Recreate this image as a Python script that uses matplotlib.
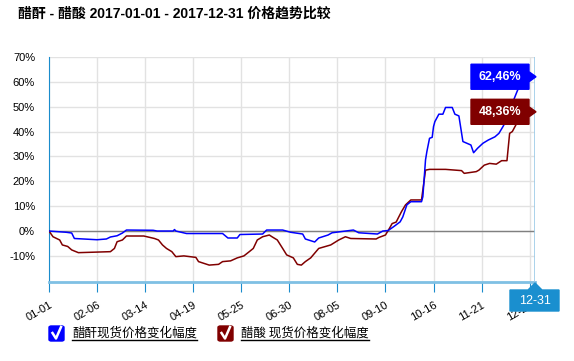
import matplotlib
matplotlib.use("Agg")
import matplotlib.pyplot as plt
import matplotlib.dates as mdates
from matplotlib.patches import Polygon, FancyBboxPatch
from matplotlib.lines import Line2D
import pandas as pd

plt.rcParams['font.family'] = ['Liberation Sans', 'Noto Sans CJK SC', 'DejaVu Sans']

# Data (% change vs 2017-01-01)
anhydride_dates = [
    "01-01", "01-14", "01-18", "01-20", "02-06", "02-13", "02-16", "02-21", "02-25", "02-28",
    "03-20", "03-23", "04-04", "04-05", "04-06", "04-14", "05-11", "05-15", "05-22", "05-24",
    "06-10", "06-13", "06-25", "07-01", "07-10", "07-12", "07-19", "07-22", "07-29", "08-01",
    "08-17", "08-21", "09-04", "09-08", "09-12", "09-16", "09-21", "09-23", "09-26", "09-29",
    "10-07", "10-08", "10-10", "10-11", "10-13", "10-15", "10-16", "10-17", "10-20", "10-23",
    "10-25", "10-30", "11-01", "11-04", "11-07", "11-10", "11-13", "11-15", "11-18", "11-22",
    "11-26", "12-01", "12-04", "12-07", "12-09", "12-13", "12-15", "12-18", "12-20", "12-24",
    "12-31",
]
anhydride_pct = [
    0.0, -0.5, -0.8, -3.0, -3.5, -3.2, -2.4, -1.9, -0.8, 0.4,
    0.3, 0.0, 0.0, 0.6, 0.0, -1.0, -1.0, -2.8, -2.8, -1.4,
    -1.2, 0.4, 0.4, -0.5, -1.2, -3.2, -4.4, -2.8, -1.6, -0.7,
    0.4, -0.7, -1.2, 0.0, 0.2, 1.7, 3.7, 5.7, 10.5, 11.8,
    11.8, 13.8, 28.6, 31.9, 37.3, 37.7, 42.0, 44.0, 47.0, 47.0,
    49.7, 49.7, 47.0, 46.3, 36.0, 35.3, 34.6, 31.5, 33.3, 35.3,
    36.6, 37.9, 39.3, 42.0, 44.0, 48.0, 52.7, 56.7, 58.5, 60.5,
    62.46,
]

acid_dates = [
    "01-01", "01-04", "01-09", "01-11", "01-15", "01-18", "01-23", "02-16", "02-19", "02-21",
    "02-25", "02-28", "03-13", "03-21", "03-24", "03-27", "03-30", "04-03", "04-06", "04-12",
    "04-21", "04-23", "05-01", "05-08", "05-11", "05-17", "05-22", "05-27", "05-31", "06-03",
    "06-06", "06-10", "06-15", "06-17", "06-21", "06-25", "06-28", "07-03", "07-06", "07-09",
    "07-12", "07-16", "07-22", "07-31", "08-06", "08-11", "08-15", "09-03", "09-05", "09-10",
    "09-13", "09-15", "09-18", "09-22", "09-25", "09-29", "10-07", "10-10", "10-13", "10-25",
    "11-06", "11-08", "11-17", "11-19", "11-23", "11-27", "12-02", "12-06", "12-10", "12-12",
    "12-14", "12-18", "12-23", "12-31",
]
acid_pct = [
    0.0, -2.3, -3.6, -5.6, -6.2, -7.6, -8.7, -8.3, -7.0, -4.3,
    -3.6, -2.0, -2.0, -3.0, -3.6, -5.6, -7.0, -8.3, -10.3, -10.0,
    -10.6, -12.3, -13.7, -13.4, -12.3, -12.0, -10.8, -10.0, -8.3, -7.0,
    -3.6, -2.3, -1.6, -2.3, -3.6, -7.0, -9.6, -10.8, -13.4, -13.7,
    -12.3, -10.8, -7.0, -5.6, -3.6, -2.3, -3.0, -3.2, -2.6, -1.6,
    1.1, 3.0, 3.6, 7.8, 10.5, 12.5, 12.5, 24.5, 24.8, 24.8,
    24.3, 23.2, 23.9, 24.5, 26.5, 27.2, 26.9, 28.3, 28.3, 39.3,
    40.0, 44.0, 46.0, 48.36,
]

tick_labels = ["01-01", "02-06", "03-14", "04-19", "05-25", "06-30",
               "08-05", "09-10", "10-16", "11-21", "12-27"]
y_ticks = [-10, 0, 10, 20, 30, 40, 50, 60, 70]

series_names = ["醋酐现货价格变化幅度", "醋酸 现货价格变化幅度"]
series_colors = ["#0000ff", "#800000"]
title = "醋酐 - 醋酸 2017-01-01 - 2017-12-31 价格趋势比较"


def to_dates(mmdd):
    return pd.to_datetime(["2017-" + d for d in mmdd])


W, H = 574, 361
fig = plt.figure(figsize=(W / 100, H / 100), dpi=100)
ax = fig.add_axes([49 / W, 1 - 282 / H, (535 - 49) / W, (282 - 57) / H])

x1 = to_dates(anhydride_dates)
x2 = to_dates(acid_dates)
ax.plot(x1, anhydride_pct, color=series_colors[0], lw=1.1, zorder=4)
ax.plot(x2, acid_pct, color=series_colors[1], lw=1.1, zorder=3)

ax.set_xlim(pd.Timestamp("2017-01-01"), pd.Timestamp("2017-12-31"))
ax.set_ylim(-20.5, 70)
ax.set_yticks(y_ticks)
ax.set_yticklabels([f"{v}%" for v in y_ticks], fontsize=8)
ax.set_xticks(to_dates(tick_labels))
ax.set_xticklabels(tick_labels, fontsize=8, rotation=30, ha="right",
                   rotation_mode="anchor")
ax.tick_params(axis="x", length=7, color="#1a8ccc", pad=6)
ax.tick_params(axis="y", length=0, pad=10)

ax.grid(True, color="#e2e2e2", lw=1)
ax.set_axisbelow(True)
ax.axhline(0, color="#808080", lw=1, zorder=2)

for s in ["top", "right"]:
    ax.spines[s].set_visible(False)
ax.spines["left"].set_color("#1a8ccc")
ax.spines["bottom"].set_color("#7fc0e4")
ax.spines["bottom"].set_linewidth(2)

# crosshair line at the last day
ax.axvline(pd.Timestamp("2017-12-31"), color="#9ccbe8", lw=1.2, zorder=5)

# title
fig.text(18 / W, 1 - 14 / H, title, fontsize=10, fontweight="bold",
         va="center", ha="left")

# end value labels
fig.canvas.draw()
for xs, ys, col in [(x1, anhydride_pct, series_colors[0]),
                    (x2, acid_pct, series_colors[1])]:
    px, py = ax.transData.transform((mdates.date2num(xs[-1]), ys[-1]))
    py = py - 1
    right, left = px - 6, px - 64
    verts = [(left, py - 12.5), (right, py - 12.5), (right, py - 5), (px + 1, py),
             (right, py + 5), (right, py + 12.5), (left, py + 12.5)]
    verts = [(vx / W, vy / H) for vx, vy in verts]
    fig.patches.append(Polygon(verts, closed=True, color=col,
                               transform=fig.transFigure, zorder=10))
    fig.text((left + right) / 2 / W, py / H, f"{ys[-1]:.2f}%".replace(".", ","),
             color="white", fontsize=9, fontweight="bold",
             ha="center", va="center", zorder=11)

# 12-31 x label box
bx0, bx1, by0, by1 = 510, 559, 290, 311
tipx = 535
verts = [(bx0, by0), (tipx - 7, by0), (tipx, by0 - 7), (tipx + 7, by0),
         (bx1, by0), (bx1, by1), (bx0, by1)]
fig.patches.append(Polygon([(vx / W, 1 - vy / H) for vx, vy in verts], closed=True,
                           color="#1a8fcf", transform=fig.transFigure, zorder=10))
fig.text((bx0 + bx1) / 2 / W, 1 - (by0 + by1) / 2 / H, "12-31", color="white",
         fontsize=9, ha="center", va="center", zorder=11)

# legend with check boxes
renderer = fig.canvas.get_renderer()
for bx, name, col in [(49, series_names[0], series_colors[0]),
                      (218, series_names[1], series_colors[1])]:
    fig.patches.append(FancyBboxPatch((bx / W, 1 - 341 / H), 15 / W, 15 / H,
                                      boxstyle="round,pad=0,rounding_size=0.004",
                                      color=col, transform=fig.transFigure))
    fig.lines.append(Line2D([(bx + 3.5) / W, (bx + 7) / W, (bx + 12) / W],
                            [1 - 333 / H, 1 - 338.5 / H, 1 - 327 / H],
                            color="white", lw=1.8, transform=fig.transFigure))
    t = fig.text((bx + 23) / W, 1 - 333 / H, name, fontsize=9,
                 family=["Noto Sans CJK SC", "DejaVu Sans"], ha="left", va="center")
    bb = t.get_window_extent(renderer)
    fig.lines.append(Line2D([bb.x0 / W, bb.x1 / W], [1 - 340 / H, 1 - 340 / H],
                            color="black", lw=1, transform=fig.transFigure))

fig.savefig("out.png", dpi=100)
